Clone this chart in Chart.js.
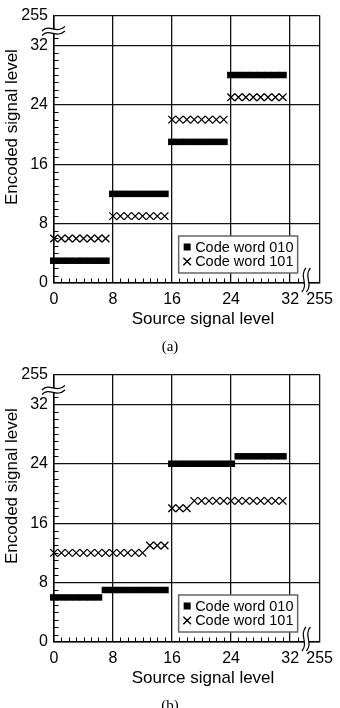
<!DOCTYPE html>
<html>
<head>
<meta charset="utf-8">
<script src="https://cdn.jsdelivr.net/npm/chart.js@4.4.1/dist/chart.umd.min.js"></script>
<style>
  html, body { margin: 0; padding: 0; background: #fff; }
  body { width: 340px; height: 708px; overflow: hidden; position: relative; }
  .panel { position: absolute; left: 0; width: 340px; height: 359px; }
  .panel canvas { display: block; }
  .caption {
    position: absolute; left: 0; top: 338px; width: 340px; text-align: center;
    font: 15px 'Liberation Serif', 'Times New Roman', serif; line-height: 16px; color: #000;
  }
</style>
</head>
<body>
<div class="panel" style="top:0"><canvas id="chartA" width="340" height="359"></canvas><div class="caption">(a)</div></div>
<div class="panel" style="top:359px"><canvas id="chartB" width="340" height="359"></canvas><div class="caption">(b)</div></div>
<script>
// source levels on the x axis
const sourceLevels = [0, 1, 2, 3, 4, 5, 6, 7, 8, 9, 10, 11, 12, 13, 14, 15,
                      16, 17, 18, 19, 20, 21, 22, 23, 24, 25, 26, 27, 28, 29, 30, 31];

// (a) encoded levels
const codeA010 = [3, 3, 3, 3, 3, 3, 3, 3, 12, 12, 12, 12, 12, 12, 12, 12,
                  19, 19, 19, 19, 19, 19, 19, 19, 28, 28, 28, 28, 28, 28, 28, 28];
const codeA101 = [6, 6, 6, 6, 6, 6, 6, 6, 9, 9, 9, 9, 9, 9, 9, 9,
                  22, 22, 22, 22, 22, 22, 22, 22, 25, 25, 25, 25, 25, 25, 25, 25];

// (b) encoded levels
const codeB010 = [6, 6, 6, 6, 6, 6, 6, 7, 7, 7, 7, 7, 7, 7, 7, 7,
                  24, 24, 24, 24, 24, 24, 24, 24, 24, 25, 25, 25, 25, 25, 25, 25];
const codeB101 = [12, 12, 12, 12, 12, 12, 12, 12, 12, 12, 12, 12, 12, 13, 13, 13,
                  18, 18, 18, 19, 19, 19, 19, 19, 19, 19, 19, 19, 19, 19, 19, 19];

// axes: 36 stands for the broken-off end of the axis (255)
const tickValues = [0, 8, 16, 24, 32, 36];
const tickLabels = ['0', '8', '16', '24', '32', '255'];
const minorTicks = [1, 2, 3, 4, 5, 6, 7, 9, 10, 11, 12, 13, 14, 15, 17, 18, 19, 20,
                    21, 22, 23, 25, 26, 27, 28, 29, 30, 31, 33];
const breakValue = 34;

const seriesLabels = ['Code word 010', 'Code word 101'];
const xTitle = 'Source signal level';
const yTitle = 'Encoded signal level';

const sans = "'Liberation Sans', Arial, sans-serif";

function wavePath(ctx, x0, y0, x1, y1, c0x, c0y, c1x, c1y) {
    ctx.moveTo(x0, y0);
    ctx.bezierCurveTo(c0x, c0y, c1x, c1y, x1, y1);
}

const decorPlugin = {
    id: 'decor',
    beforeDatasetsDraw(chart) {
        const { ctx, chartArea: a, scales: { x, y } } = chart;
        ctx.save();
        ctx.strokeStyle = '#000';
        ctx.lineWidth = 1;
        ctx.beginPath();
        minorTicks.forEach(v => {
            const px = Math.round(x.getPixelForValue(v)) + 0.5;
            ctx.moveTo(px, a.bottom);
            ctx.lineTo(px, a.bottom - 4.5);
            const py = Math.round(y.getPixelForValue(v)) + 0.5;
            ctx.moveTo(a.left, py);
            ctx.lineTo(a.left + 4.5, py);
        });
        ctx.stroke();
        ctx.restore();
    },
    afterDatasetsDraw(chart) {
        // legend box inside the plot
        const { ctx, chartArea: a } = chart;
        const left = a.right - 141, top = a.bottom - 47, w = 119, h = 37;
        ctx.save();
        ctx.fillStyle = '#fff';
        ctx.fillRect(left, top, w, h);
        ctx.strokeStyle = '#666';
        ctx.lineWidth = 1.5;
        ctx.strokeRect(left, top, w, h);

        const row1 = top + 11, row2 = top + 25.5, mx = left + 8.5;
        ctx.fillStyle = '#000';
        ctx.fillRect(mx - 3.5, row1 - 3.5, 7, 7);
        ctx.strokeStyle = '#000';
        ctx.lineWidth = 1.4;
        ctx.beginPath();
        ctx.moveTo(mx - 3.8, row2 - 3.8); ctx.lineTo(mx + 3.8, row2 + 3.8);
        ctx.moveTo(mx + 3.8, row2 - 3.8); ctx.lineTo(mx - 3.8, row2 + 3.8);
        ctx.stroke();

        ctx.font = '14.5px ' + sans;
        ctx.textBaseline = 'middle';
        ctx.textAlign = 'left';
        ctx.fillText(chart.data.datasets[0].label, left + 16.5, row1 + 0.5);
        ctx.fillText(chart.data.datasets[1].label, left + 16.5, row2 + 0.5);
        ctx.restore();
    },
    afterDraw(chart) {
        const { ctx, chartArea: a, scales: { x, y } } = chart;
        ctx.save();

        // axis titles
        ctx.fillStyle = '#000';
        ctx.font = '17px ' + sans;
        ctx.textAlign = 'center';
        ctx.textBaseline = 'middle';
        ctx.fillText(xTitle, a.left + 149, a.bottom + 36.5);
        ctx.save();
        ctx.translate(12.5, a.top + 111.5);
        ctx.rotate(-Math.PI / 2);
        ctx.fillText(yTitle, 0, 0);
        ctx.restore();

        // break on x axis
        const bx = x.getPixelForValue(breakValue);
        const b = a.bottom;
        ctx.fillStyle = '#fff';
        ctx.beginPath();
        ctx.moveTo(bx + 1, b - 15);
        ctx.bezierCurveTo(bx - 6, b - 7, bx + 4, b + 1, bx - 3, b + 9);
        ctx.lineTo(bx + 1.5, b + 9);
        ctx.bezierCurveTo(bx + 8.5, b + 1, bx - 1.5, b - 7, bx + 5.5, b - 15);
        ctx.closePath();
        ctx.fill();
        ctx.strokeStyle = '#000';
        ctx.lineWidth = 1.2;
        ctx.beginPath();
        wavePath(ctx, bx + 1, b - 15, bx - 3, b + 9, bx - 6, b - 7, bx + 4, b + 1);
        wavePath(ctx, bx + 5.5, b - 15, bx + 1.5, b + 9, bx - 1.5, b - 7, bx + 8.5, b + 1);
        ctx.stroke();

        // break on y axis
        const by = y.getPixelForValue(breakValue);
        const l = a.left;
        ctx.fillStyle = '#fff';
        ctx.beginPath();
        ctx.moveTo(l - 12, by + 0.5);
        ctx.bezierCurveTo(l - 4, by - 7, l + 2, by + 4, l + 11, by - 4);
        ctx.lineTo(l + 11, by + 0.5);
        ctx.bezierCurveTo(l + 2, by + 8.5, l - 4, by - 2.5, l - 12, by + 5);
        ctx.closePath();
        ctx.fill();
        ctx.beginPath();
        wavePath(ctx, l - 12, by + 0.5, l + 11, by - 4, l - 4, by - 7, l + 2, by + 4);
        wavePath(ctx, l - 12, by + 5, l + 11, by + 0.5, l - 4, by - 2.5, l + 2, by + 8.5);
        ctx.stroke();

        ctx.restore();
    }
};

function axisOptions(size, padding, isX) {
    return {
        type: 'linear',
        min: 0,
        max: 36,
        afterBuildTicks: s => { s.ticks = tickValues.map(v => ({ value: v })); },
        afterFit: s => { if (isX) s.height = size; else s.width = size; },
        ticks: {
            callback: v => tickLabels[tickValues.indexOf(v)],
            autoSkip: false,
            maxRotation: 0,
            padding: padding,
            color: '#000',
            font: { family: sans, size: 16 }
        },
        grid: { color: '#111', lineWidth: 1.3, drawTicks: false },
        border: { color: '#000', width: 1.5 }
    };
}

function makeChart(canvasId, values010, values101) {
    return new Chart(document.getElementById(canvasId), {
        type: 'scatter',
        data: {
            datasets: [
                {
                    label: seriesLabels[0],
                    data: sourceLevels.map((s, i) => ({ x: s, y: values010[i] })),
                    pointStyle: 'line',
                    pointRadius: 4,
                    pointBorderWidth: 6.5,
                    pointBorderColor: '#000',
                    pointBackgroundColor: '#000',
                    showLine: false,
                    clip: false
                },
                {
                    label: seriesLabels[1],
                    data: sourceLevels.map((s, i) => ({ x: s, y: values101[i] })),
                    pointStyle: 'crossRot',
                    pointRadius: 5.3,
                    pointBorderWidth: 1.3,
                    pointBorderColor: '#000',
                    showLine: false,
                    clip: false
                }
            ]
        },
        options: {
            responsive: false,
            animation: false,
            events: [],
            layout: { padding: { top: 15, right: 18, left: 0, bottom: 0 } },
            plugins: { legend: { display: false }, tooltip: { enabled: false } },
            scales: {
                x: axisOptions(76, 7, true),
                y: axisOptions(54, 6, false)
            }
        },
        plugins: [decorPlugin]
    });
}

makeChart('chartA', codeA010, codeA101);
makeChart('chartB', codeB010, codeB101);
</script>
</body>
</html>
